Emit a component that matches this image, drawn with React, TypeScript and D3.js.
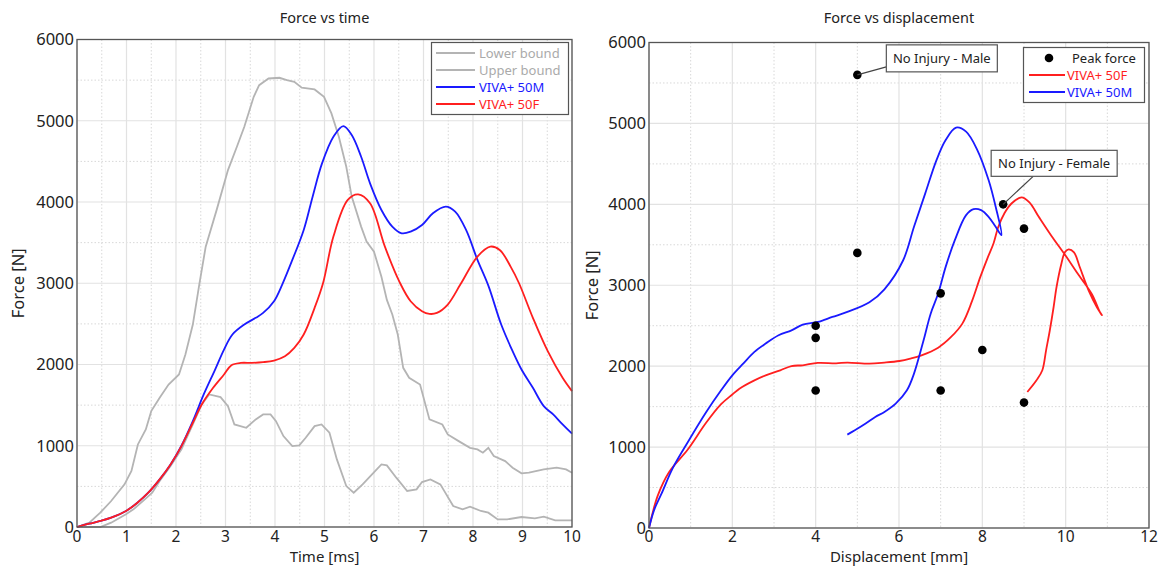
import React, { useEffect, useRef } from "react";
import * as d3 from "d3";

// Force vs time: [t (ms), F (N)]
const upperBound = [
  [0, 0], [0.25, 53], [0.47, 176], [0.69, 320], [0.96, 525], [1.1, 690], [1.23, 1016], [1.39, 1200],
  [1.5, 1426], [1.67, 1590], [1.85, 1754], [2.06, 1877], [2.19, 2123], [2.34, 2492], [2.47, 2984],
  [2.6, 3450], [2.82, 3900], [3.05, 4393], [3.23, 4680], [3.38, 4926], [3.57, 5295], [3.68, 5438],
  [3.87, 5520], [4.09, 5529], [4.24, 5500], [4.39, 5480], [4.54, 5406], [4.8, 5385], [4.99, 5295],
  [5.14, 5090], [5.29, 4803], [5.44, 4434], [5.55, 4066], [5.74, 3697], [5.85, 3512], [6.0, 3389],
  [6.15, 3080], [6.26, 2795], [6.37, 2615], [6.48, 2369], [6.59, 1959], [6.71, 1836], [6.93, 1754],
  [7.12, 1324], [7.38, 1262], [7.49, 1139], [7.71, 1057], [7.94, 975], [8.09, 955], [8.2, 914],
  [8.31, 975], [8.42, 873], [8.65, 811], [8.8, 730], [8.98, 660], [9.13, 668], [9.43, 709],
  [9.69, 730], [9.88, 709], [10, 668],
];
const lowerBound = [
  [0, 0], [0.47, 0], [0.69, 53], [0.99, 156], [1.14, 217], [1.37, 340], [1.52, 422], [1.67, 566],
  [1.89, 750], [2.11, 955], [2.34, 1262], [2.52, 1508], [2.67, 1631], [2.9, 1598], [3.05, 1488],
  [3.18, 1262], [3.42, 1221], [3.61, 1324], [3.76, 1385], [3.91, 1385], [4.02, 1303], [4.17, 1119],
  [4.35, 996], [4.49, 1004], [4.62, 1098], [4.8, 1242], [4.94, 1262], [5.1, 1160], [5.25, 832],
  [5.44, 504], [5.59, 422], [5.77, 525], [5.96, 648], [6.15, 770], [6.26, 758], [6.45, 607],
  [6.67, 443], [6.86, 463], [6.97, 553], [7.14, 586], [7.34, 525], [7.6, 258], [7.79, 217],
  [7.94, 250], [8.16, 197], [8.31, 176], [8.5, 94], [8.69, 94], [8.98, 123], [9.25, 107],
  [9.43, 127], [9.66, 82], [9.88, 82], [10, 82],
];
const male50Time = [
  [0, 0], [0.25, 41], [0.47, 74], [0.69, 115], [0.99, 197], [1.22, 299], [1.44, 422], [1.67, 586],
  [1.89, 770], [2.11, 1000], [2.34, 1303], [2.56, 1631], [2.79, 1938], [2.97, 2184], [3.14, 2369],
  [3.38, 2492], [3.61, 2574], [3.76, 2635], [3.98, 2779], [4.15, 2990], [4.35, 3287], [4.58, 3656],
  [4.76, 4066], [4.95, 4475], [5.18, 4803], [5.38, 4934], [5.55, 4824], [5.74, 4557], [5.92, 4230],
  [6.15, 3902], [6.37, 3697], [6.56, 3615], [6.74, 3635], [6.97, 3717], [7.19, 3861], [7.45, 3943],
  [7.64, 3881], [7.86, 3656], [8.09, 3287], [8.31, 2970], [8.57, 2492], [8.8, 2164], [8.98, 1938],
  [9.21, 1713], [9.43, 1488], [9.62, 1385], [9.81, 1262], [10, 1148],
];
const female50Time = [
  [0, 0], [0.25, 41], [0.47, 74], [0.69, 115], [0.99, 197], [1.22, 299], [1.44, 422], [1.67, 586],
  [1.89, 770], [2.11, 996], [2.34, 1283], [2.52, 1508], [2.75, 1713], [2.97, 1877], [3.12, 1992],
  [3.31, 2020], [3.53, 2020], [3.76, 2029], [3.98, 2049], [4.2, 2102], [4.39, 2205], [4.58, 2369],
  [4.8, 2697], [4.97, 3000], [5.18, 3574], [5.47, 4025], [5.68, 4094], [5.92, 3984], [6.22, 3450],
  [6.52, 3010], [6.74, 2779], [6.97, 2656], [7.12, 2623], [7.27, 2635], [7.49, 2738], [7.75, 2990],
  [8.09, 3328], [8.35, 3451], [8.54, 3410], [8.76, 3205], [8.93, 3000], [9.21, 2574], [9.51, 2164],
  [9.81, 1836], [10, 1672],
];

// Force vs displacement: [d (mm), F (N)]
const female50Disp = [
  [0, 0], [0.21, 400], [0.48, 690], [0.93, 970], [1.37, 1300], [1.73, 1530], [2.0, 1650],
  [2.17, 1722], [2.53, 1825], [2.8, 1887], [3.15, 1949], [3.42, 2002], [3.69, 2011], [4.05, 2040],
  [4.49, 2035], [4.76, 2044], [5.29, 2031], [5.65, 2044], [6.01, 2064], [6.27, 2093], [6.54, 2134],
  [6.94, 2229], [7.25, 2361], [7.52, 2526], [7.75, 2800], [7.95, 3100], [8.12, 3330], [8.27, 3520],
  [8.38, 3716], [8.53, 3889], [8.7, 4010], [8.94, 4086], [9.13, 4025], [9.35, 3850], [9.66, 3610],
  [9.98, 3380], [10.3, 3135], [10.63, 2890], [10.82, 2670], [10.87, 2630], [10.75, 2728],
  [10.55, 2938], [10.34, 3222], [10.2, 3407], [10.07, 3444], [9.98, 3407], [9.9, 3272], [9.78, 2975],
  [9.71, 2728], [9.62, 2444], [9.53, 2196], [9.44, 1949], [9.3, 1825], [9.08, 1681],
];
const male50Disp = [
  [0, 0], [0.12, 218], [0.3, 424], [0.57, 740], [0.93, 1060], [1.37, 1430], [1.73, 1702], [2.0, 1887],
  [2.26, 2031], [2.53, 2176], [2.8, 2279], [3.11, 2382], [3.42, 2443], [3.69, 2513], [4.05, 2546],
  [4.4, 2608], [4.76, 2670], [5.29, 2790], [5.65, 2950], [6.1, 3309], [6.36, 3722], [6.63, 4135],
  [6.9, 4547], [7.12, 4795], [7.37, 4948], [7.61, 4898], [7.88, 4671], [8.15, 4300], [8.32, 3970],
  [8.46, 3619], [8.32, 3722], [8.15, 3846], [7.97, 3928], [7.79, 3940], [7.61, 3866], [7.34, 3557],
  [7.12, 3227], [6.94, 2897], [6.76, 2649], [6.59, 2320], [6.36, 1908], [6.19, 1702], [5.92, 1537],
  [5.65, 1434], [5.43, 1372], [5.2, 1290], [4.94, 1207], [4.76, 1154],
];
const peakDisp = [5, 5, 4, 4, 4, 7, 7, 8, 8.5, 9, 9];
const peakForce = [5600, 3400, 2500, 2350, 1700, 2900, 1700, 2200, 4000, 3700, 1550];

const forceTicks = [0, 1000, 2000, 3000, 4000, 5000, 6000];
const timeTicks = [0, 1, 2, 3, 4, 5, 6, 7, 8, 9, 10];
const dispTicks = [0, 2, 4, 6, 8, 10, 12];

const FONT = "'Noto Sans', 'Open Sans', sans-serif";
const BLUE = "#1a1aff";
const RED = "#ff1f1f";
const GRAY = "#b4b4b4";

function drawPanel(svg, box, xDomain, xTicks, xMinor, title, xLabel) {
  var x = d3.scaleLinear().domain(xDomain).range([box.left, box.right]);
  var y = d3.scaleLinear().domain([0, 6000]).range([box.bottom, box.top]);
  var g = svg.append("g");

  // minor grid (dotted)
  g.selectAll(".vminor").data(xMinor).enter().append("line")
    .attr("x1", (d) => x(d)).attr("x2", (d) => x(d))
    .attr("y1", box.top).attr("y2", box.bottom)
    .attr("stroke", "#d8d8d8").attr("stroke-dasharray", "1.5,2");
  g.selectAll(".hminor").data([500, 1500, 2500, 3500, 4500, 5500]).enter().append("line")
    .attr("x1", box.left).attr("x2", box.right)
    .attr("y1", (d) => y(d)).attr("y2", (d) => y(d))
    .attr("stroke", "#d8d8d8").attr("stroke-dasharray", "1.5,2");
  // major grid
  g.selectAll(".vmajor").data(xTicks).enter().append("line")
    .attr("x1", (d) => x(d)).attr("x2", (d) => x(d))
    .attr("y1", box.top).attr("y2", box.bottom)
    .attr("stroke", "#e2e2e2").attr("stroke-width", 1.2);
  g.selectAll(".hmajor").data(forceTicks).enter().append("line")
    .attr("x1", box.left).attr("x2", box.right)
    .attr("y1", (d) => y(d)).attr("y2", (d) => y(d))
    .attr("stroke", "#e2e2e2").attr("stroke-width", 1.2);

  // tick labels
  g.selectAll(".ytl").data(forceTicks).enter().append("text")
    .attr("x", box.left - 3).attr("y", (d) => y(d)).attr("dy", "0.36em")
    .attr("text-anchor", "end").attr("font-family", FONT).attr("font-size", 16.5)
    .attr("fill", "#222").text((d) => d);
  g.selectAll(".xtl").data(xTicks).enter().append("text")
    .attr("x", (d) => x(d)).attr("y", 541.5)
    .attr("text-anchor", "middle").attr("font-family", FONT).attr("font-size", 15.5)
    .attr("fill", "#222").text((d) => d);

  svg.append("text")
    .attr("x", (box.left + box.right) / 2).attr("y", 23)
    .attr("text-anchor", "middle").attr("font-family", FONT).attr("font-size", 14.5)
    .attr("fill", "#222").text(title);
  svg.append("text")
    .attr("x", (box.left + box.right) / 2).attr("y", 562)
    .attr("text-anchor", "middle").attr("font-family", FONT).attr("font-size", 15)
    .attr("fill", "#222").text(xLabel);
  svg.append("text")
    .attr("transform", "translate(" + box.yLabelX + "," + (box.top + box.bottom) / 2 + ") rotate(-90)")
    .attr("text-anchor", "middle").attr("font-family", FONT).attr("font-size", 16.5)
    .attr("fill", "#222").text("Force [N]");

  return { x: x, y: y, g: g };
}

function frame(svg, box) {
  svg.append("rect")
    .attr("x", box.left).attr("y", box.top)
    .attr("width", box.right - box.left).attr("height", box.bottom - box.top)
    .attr("fill", "none").attr("stroke", "#555").attr("stroke-width", 1.3);
}

function App() {
  const ref = useRef(null);

  useEffect(() => {
    var svg = d3.select(ref.current);
    svg.selectAll("*").remove();

    // ---------- left: force vs time ----------
    var boxL = { left: 77, right: 572, top: 39.5, bottom: 527, yLabelX: 24 };
    var minorT = d3.range(0.5, 10, 1);
    var L = drawPanel(svg, boxL, [0, 10], timeTicks, minorT, "Force vs time", "Time [ms]");
    var jagged = d3.line().x((d) => L.x(d[0])).y((d) => L.y(d[1]));
    var smooth = d3.line().x((d) => L.x(d[0])).y((d) => L.y(d[1])).curve(d3.curveCatmullRom.alpha(0.5));

    [upperBound, lowerBound].forEach(function (s) {
      L.g.append("path").attr("d", jagged(s)).attr("fill", "none")
        .attr("stroke", GRAY).attr("stroke-width", 1.8);
    });
    L.g.append("path").attr("d", smooth(male50Time)).attr("fill", "none")
      .attr("stroke", BLUE).attr("stroke-width", 1.8);
    L.g.append("path").attr("d", smooth(female50Time)).attr("fill", "none")
      .attr("stroke", RED).attr("stroke-width", 1.8);
    frame(svg, boxL);

    // legend left
    var legL = svg.append("g");
    legL.append("rect").attr("x", 431.5).attr("y", 42.5).attr("width", 137).attr("height", 72)
      .attr("fill", "white").attr("stroke", "#555").attr("stroke-width", 1.2);
    var itemsL = [["Lower bound", GRAY, "#aaaaaa"], ["Upper bound", GRAY, "#aaaaaa"], ["VIVA+ 50M", BLUE, BLUE], ["VIVA+ 50F", RED, RED]];
    itemsL.forEach(function (it, i) {
      var yy = 53 + i * 17;
      legL.append("line").attr("x1", 436).attr("x2", 475).attr("y1", yy).attr("y2", yy)
        .attr("stroke", it[1]).attr("stroke-width", 1.8);
      legL.append("text").attr("x", 479).attr("y", yy).attr("dy", "0.35em")
        .attr("font-family", FONT).attr("font-size", 13).attr("fill", it[2]).text(it[0]);
    });

    // ---------- right: force vs displacement ----------
    var boxR = { left: 649, right: 1149, top: 42.5, bottom: 528, yLabelX: 598 };
    var minorD = d3.range(1, 12, 2);
    var R = drawPanel(svg, boxR, [0, 12], dispTicks, minorD, "Force vs displacement", "Displacement [mm]");
    var smoothR = d3.line().x((d) => R.x(d[0])).y((d) => R.y(d[1])).curve(d3.curveCatmullRom.alpha(0.5));
    R.g.append("path").attr("d", smoothR(female50Disp)).attr("fill", "none")
      .attr("stroke", RED).attr("stroke-width", 1.8);
    R.g.append("path").attr("d", smoothR(male50Disp)).attr("fill", "none")
      .attr("stroke", BLUE).attr("stroke-width", 1.8);
    R.g.selectAll(".pk").data(peakDisp).enter().append("circle")
      .attr("cx", (d) => R.x(d)).attr("cy", (d, i) => R.y(peakForce[i]))
      .attr("r", 4.3).attr("fill", "black");

    // annotations
    var notes = [
      { text: "No Injury - Male", d: 5, f: 5600, bx: 29, by: -30, w: 111, h: 27, lx: 29, ly: -8 },
      { text: "No Injury - Female", d: 8.5, f: 4000, bx: -12, by: -54, w: 126, h: 26, lx: 30, ly: -28 },
    ];
    notes.forEach(function (n) {
      var px = R.x(n.d), py = R.y(n.f);
      svg.append("line").attr("x1", px).attr("y1", py).attr("x2", px + n.lx).attr("y2", py + n.ly)
        .attr("stroke", "#444").attr("stroke-width", 1.2);
      svg.append("rect").attr("x", px + n.bx).attr("y", py + n.by).attr("width", n.w).attr("height", n.h)
        .attr("fill", "white").attr("stroke", "#555").attr("stroke-width", 1.2);
      svg.append("text").attr("x", px + n.bx + n.w / 2).attr("y", py + n.by + n.h / 2).attr("dy", "0.36em")
        .attr("text-anchor", "middle").attr("font-family", FONT).attr("font-size", 13)
        .attr("fill", "#222").text(n.text);
    });
    frame(svg, boxR);

    // legend right
    var legR = svg.append("g");
    legR.append("rect").attr("x", 1023.5).attr("y", 47.5).attr("width", 121).attr("height", 55)
      .attr("fill", "white").attr("stroke", "#555").attr("stroke-width", 1.2);
    legR.append("circle").attr("cx", 1049).attr("cy", 58).attr("r", 4.3).attr("fill", "black");
    legR.append("text").attr("x", 1072).attr("y", 58).attr("dy", "0.35em")
      .attr("font-family", FONT).attr("font-size", 13).attr("fill", "#222").text("Peak force");
    [["VIVA+ 50F", RED], ["VIVA+ 50M", BLUE]].forEach(function (it, i) {
      var yy = 75 + i * 17;
      legR.append("line").attr("x1", 1029).attr("x2", 1065).attr("y1", yy).attr("y2", yy)
        .attr("stroke", it[1]).attr("stroke-width", 1.8);
      legR.append("text").attr("x", 1067).attr("y", yy).attr("dy", "0.35em")
        .attr("font-family", FONT).attr("font-size", 13).attr("fill", it[1]).text(it[0]);
    });
  }, []);

  return (
    <svg ref={ref} width="1162" height="567"
      style={{ position: "absolute", left: 0, top: 0, background: "white" }}></svg>
  );
}

export default App;
